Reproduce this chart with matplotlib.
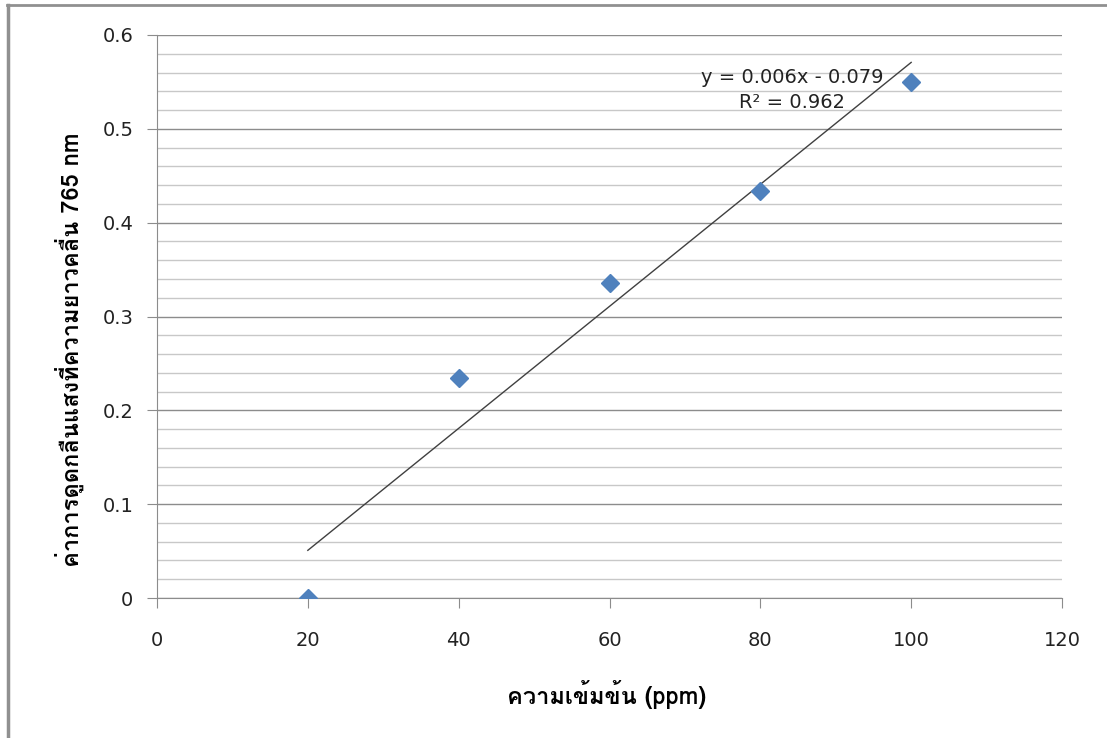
import matplotlib
matplotlib.use('Agg')
import matplotlib.pyplot as plt
from matplotlib import font_manager
from matplotlib.ft2font import FT2Font
from matplotlib.lines import Line2D
import numpy as np

# data
conc = [20, 40, 60, 80, 100]
absorb = [0.0, 0.234, 0.336, 0.434, 0.550]
xlabel = 'ความเข้มข้น (ppm)'
ylabel = 'ค่าการดูดกลืนแสงที่ความยาวคลื่น 765 nm'
eq_text = 'y = 0.006x - 0.079\nR² = 0.962'

# find installed fonts that have Thai glyphs (prefer Loma)
thai_names = set()
for f in font_manager.fontManager.ttflist:
    try:
        if 0x0E04 in FT2Font(f.fname).get_charmap():
            thai_names.add(f.name)
    except Exception:
        pass
if 'Loma' in thai_names:
    thai_font = 'Loma'
elif thai_names:
    thai_font = sorted(thai_names)[0]
else:
    thai_font = None
fams = ([thai_font] if thai_font else []) + ['DejaVu Sans']

fig = plt.figure(figsize=(11.07, 7.38), dpi=100)
ax = fig.add_axes([157/1107, 1 - 598/738, (1062-157)/1107, (598-35)/738])

ax.plot(conc, absorb, linestyle='none', marker='D', markersize=9.5,
        color='#4F81BD', zorder=3)

# linear trendline
m, b = np.polyfit(conc, absorb, 1)
xs = np.array([conc[0], conc[-1]])
ax.plot(xs, m*xs + b, color='#404040', linewidth=1, zorder=2)
fig.text(792/1107, 1 - 90/738, eq_text, ha='center', va='center', fontsize=14,
         family='DejaVu Sans', color='#222222', linespacing=1.45,
         multialignment='center')

ax.set_xlim(0, 120)
ax.set_ylim(0, 0.6)
ax.set_xticks(range(0, 121, 20))
ax.set_yticks([0, 0.1, 0.2, 0.3, 0.4, 0.5, 0.6])
ax.set_yticklabels(['0', '0.1', '0.2', '0.3', '0.4', '0.5', '0.6'])
ax.set_yticks(np.arange(0, 0.6, 0.02), minor=True)
ax.grid(True, axis='y', which='major', color='#8c8c8c', linewidth=1)
ax.grid(True, axis='y', which='minor', color='#c8c8c8', linewidth=1)
ax.set_axisbelow(True)
for s in ['top', 'right']:
    ax.spines[s].set_visible(False)
for s in ['left', 'bottom']:
    ax.spines[s].set_color('#8c8c8c')
ax.tick_params(which='major', length=7, color='#8c8c8c', labelsize=14,
               labelcolor='#222222')
ax.tick_params(axis='x', pad=17)
ax.tick_params(axis='y', pad=10)
ax.tick_params(which='minor', length=0)
for t in ax.get_xticklabels() + ax.get_yticklabels():
    t.set_family('DejaVu Sans')

ax.set_xlabel(xlabel, family=fams, fontsize=17, fontweight='bold')
ax.set_ylabel(ylabel, family=fams, fontsize=17, fontweight='bold')
ax.xaxis.set_label_coords((607-157)/905, -(680-598)/563)
ax.yaxis.set_label_coords(-(157-84)/905, (598-350)/563)

# outer frame like the screenshot border
fig.add_artist(Line2D([8/1107, 8/1107], [0, 1 - 5/738], color='#909090', linewidth=2.5))
fig.add_artist(Line2D([7/1107, 1], [1 - 5/738, 1 - 5/738], color='#909090', linewidth=2))

fig.savefig('out.png', dpi=100)
